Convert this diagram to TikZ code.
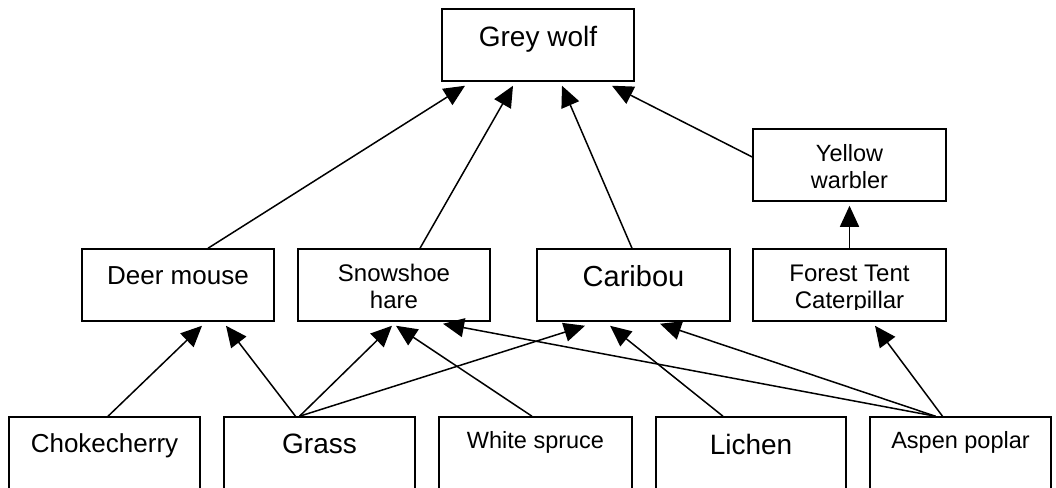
\documentclass[tikz,border=0pt]{standalone}
\usepackage{fontspec}
\setmainfont{Liberation Sans}
\usetikzlibrary{arrows.meta}
\newcommand{\twolines}[2]{\begin{tabular}[t]{@{}c@{}}#1\\#2\end{tabular}}
\newcommand{\fs}[1]{\fontsize{#1}{27}\selectfont}
\tikzset{
  box/.style={draw, line width=1.5pt, inner sep=0pt, minimum height=72pt},
  tallbox/.style={box, minimum height=80pt},
  lbl/.style={inner sep=0pt, anchor=base},
  arr/.style={line width=1.5pt, -{Triangle[length=21pt,width=19pt]}}
}
\begin{document}
\begin{tikzpicture}[x=1pt, y=-1pt]
\useasboundingbox (0,0) rectangle (1056,487);
\clip (0,0) rectangle (1056,487);
\fill[white] (0,0) rectangle (1056,487);

% predator and its prey
\node[box, minimum width=192pt] (wolf)    at (538,45)    {};
\node[box, minimum width=193pt] (warbler) at (849.5,165) {};
\node[box, minimum width=192pt] (deer)    at (178,285)   {};
\node[box, minimum width=192pt] (hare)    at (394,285)   {};
\node[box, minimum width=193pt] (caribou) at (633.5,285) {};
\node[box, minimum width=193pt] (ftc)     at (849.5,285) {};

% producers (bottom row, running off the lower edge)
\node[tallbox, minimum width=191pt] (choke)  at (104.5,457) {};
\node[tallbox, minimum width=191pt] (grass)  at (319.5,457) {};
\node[tallbox, minimum width=193pt] (spruce) at (535.5,457) {};
\node[tallbox, minimum width=190pt] (lichen) at (751,457)   {};
\node[tallbox, minimum width=181pt] (aspen)  at (960.5,457) {};

% labels
\node[lbl] (wolf-t)    at ([yshift=-38pt]wolf.north)    {\fs{28}Grey wolf};
\node[lbl] (warbler-t) at ([yshift=-33pt]warbler.north) {\fs{23.5}\twolines{Yellow}{warbler}};
\node[lbl] (deer-t)    at ([yshift=-36pt]deer.north)    {\fs{26}Deer mouse};
\node[lbl] (hare-t)    at ([yshift=-33pt]hare.north)    {\fs{24}\twolines{Snowshoe}{hare}};
\node[lbl] (caribou-t) at ([yshift=-38pt]caribou.north) {\fs{29}Caribou};
\begin{scope}
  % the second line is cut off by the text frame
  \clip (753,248) rectangle (946,309);
  \node[lbl] (ftc-t) at ([yshift=-33pt]ftc.north) {\fs{24}\twolines{Forest Tent}{Caterpillar}};
\end{scope}
\node[lbl] (choke-t)  at ([yshift=-36pt]choke.north)  {\fs{26}Chokecherry};
\node[lbl] (grass-t)  at ([yshift=-37pt]grass.north)  {\fs{28}Grass};
\node[lbl] (spruce-t) at ([yshift=-32pt]spruce.north) {\fs{23.5}White spruce};
\node[lbl] (lichen-t) at ([yshift=-38pt]lichen.north) {\fs{28}Lichen};
\node[lbl] (aspen-t)  at ([yshift=-32pt]aspen.north)  {\fs{23.5}Aspen poplar};

% feeding links into the grey wolf
\draw[arr] ([xshift=30pt]deer.north) -- ([xshift=-73pt,yshift=-4pt]wolf.south);
\draw[arr] ([xshift=26pt]hare.north) -- ([xshift=-25pt,yshift=-4pt]wolf.south);
\draw[arr] ([xshift=-1.5pt]caribou.north) -- ([xshift=24pt,yshift=-4pt]wolf.south);
\draw[arr] ([yshift=8pt]warbler.west) -- ([xshift=74pt,yshift=-4pt]wolf.south);
\draw[arr] (ftc.north) -- ([yshift=-4pt]warbler.south);

% feeding links from the producers
\draw[arr] ([xshift=3.5pt]choke.north) -- ([xshift=24pt,yshift=-4pt]deer.south);
\draw[arr] ([xshift=-24pt]grass.north) -- ([xshift=48pt,yshift=-4pt]deer.south);
\draw[arr] ([xshift=-20pt]grass.north) -- ([xshift=-2pt,yshift=-4pt]hare.south);
\draw[arr] ([xshift=-20pt]grass.north) -- ([xshift=-48.5pt,yshift=-4pt]caribou.south);
\draw[arr] ([xshift=-3.5pt]spruce.north) -- ([xshift=2pt,yshift=-4pt]hare.south);
\draw[arr] ([xshift=-28pt]lichen.north) -- ([xshift=-23.5pt,yshift=-4pt]caribou.south);
\draw[arr] ([xshift=-25pt]aspen.north) -- ([xshift=49pt,yshift=-2pt]hare.south);
\draw[arr] ([xshift=-25pt]aspen.north) -- ([xshift=26.5pt,yshift=-2pt]caribou.south);
\draw[arr] ([xshift=-18pt]aspen.north) -- ([xshift=25.5pt,yshift=-4pt]ftc.south);
\end{tikzpicture}
\end{document}
